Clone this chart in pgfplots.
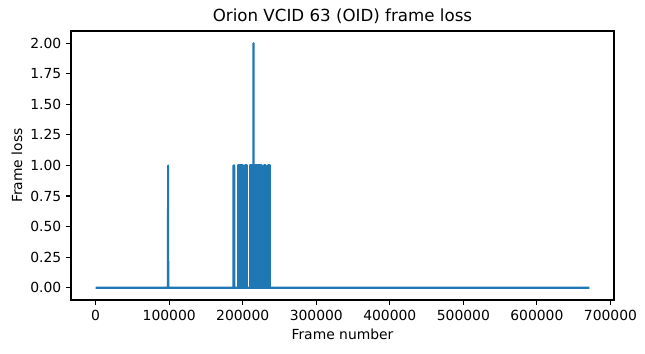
\documentclass[border=0pt]{standalone}
\usepackage{fontspec}
\setmainfont{DejaVu Sans}
\usepackage{pgfplots}
\pgfplotsset{compat=1.18}
\definecolor{tabblue}{HTML}{1F77B4}
\begin{document}
\begin{tikzpicture}
\begin{axis}[
  at={(0,0)}, anchor=south west,
  scale only axis, width=391pt, height=193.7pt,
  xmin=-33565, xmax=704865, ymin=-0.1, ymax=2.1,
  xtick={0,100000,200000,300000,400000,500000,600000,700000},
  ytick={0,0.25,0.5,0.75,1,1.25,1.5,1.75,2},
  scaled ticks=false,
  xticklabel style={/pgf/number format/.cd, set thousands separator={}, fixed, assume math mode=true},
  yticklabel style={/pgf/number format/.cd, fixed, fixed zerofill, precision=2, assume math mode=true},
  tick label style={font=\fontsize{10}{12}\selectfont},
  xtick pos=bottom, ytick pos=left,
  tick align=outside, major tick length=3.5pt,
  tick style={black, line width=0.8pt},
  axis line style={line width=0.8pt},
  title={Orion VCID 63 (OID) frame loss},
  title style={at={(axis description cs:0.5,1)}, anchor=base, yshift=1pt, font=\fontsize{12}{14}\selectfont},
  xlabel={Frame number},
  xlabel style={at={(axis description cs:0.5,-0.1265)}, anchor=center, yshift=0pt, font=\fontsize{10}{12}\selectfont},
  ylabel={Frame loss},
  ylabel style={at={(axis description cs:-0.0997,0.5)}, anchor=center, xshift=0pt, font=\fontsize{10}{12}\selectfont},
]
\addplot[tabblue, line width=1.5pt, line join=round, mark=none] coordinates {
(0,0) (98300,0) (98500,1) (98700,0)
(187200,0)(187400,1)(187600,0)(188200,0)(188400,1)(188600,0)
(214400,0)(214600,2)(214800,0)
(671300,0)
};
\addplot[draw=tabblue, fill=tabblue, line width=1.5pt, line join=round, mark=none] coordinates {(193700,0)(193700,1)(200500,1)(200500,0)} \closedcycle;
\addplot[draw=tabblue, fill=tabblue, line width=1.5pt, line join=round, mark=none] coordinates {(203600,0)(203600,1)(206400,1)(206400,0)} \closedcycle;
\addplot[draw=tabblue, fill=tabblue, line width=1.5pt, line join=round, mark=none] coordinates {(210000,0)(210000,1)(225500,1)(225500,0)} \closedcycle;
\addplot[draw=tabblue, fill=tabblue, line width=1.5pt, line join=round, mark=none] coordinates {(228700,0)(228700,1)(230900,1)(230900,0)} \closedcycle;
\addplot[draw=tabblue, fill=tabblue, line width=1.5pt, line join=round, mark=none] coordinates {(234900,0)(234900,1)(237200,1)(237200,0)} \closedcycle;
\end{axis}
\pgfresetboundingbox
\path[use as bounding box] (-51.1pt,-38.2pt) rectangle (413.3pt,216pt);
\end{tikzpicture}
\end{document}
